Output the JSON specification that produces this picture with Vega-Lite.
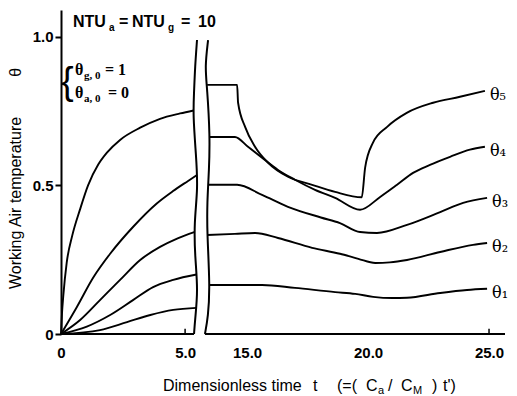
{
  "$schema": "https://vega.github.io/schema/vega-lite/v6.json",
  "width": 444,
  "height": 324,
  "autosize": "none",
  "padding": {"left": 61, "top": 10, "right": 12, "bottom": 62},
  "background": "white",
  "config": {
    "view": {"stroke": null},
    "font": "Liberation Sans",
    "text": {"color": "black", "font": "Liberation Sans"}
  },
  "datasets": {
    "curves": [
      {"s": "θ₅", "p": "L", "t": 0, "v": 0},
      {"s": "θ₅", "p": "L", "t": 0.04, "v": 0.07},
      {"s": "θ₅", "p": "L", "t": 0.09, "v": 0.126},
      {"s": "θ₅", "p": "L", "t": 0.23, "v": 0.24},
      {"s": "θ₅", "p": "L", "t": 0.45, "v": 0.33},
      {"s": "θ₅", "p": "L", "t": 0.77, "v": 0.42},
      {"s": "θ₅", "p": "L", "t": 1.09, "v": 0.5},
      {"s": "θ₅", "p": "L", "t": 1.5, "v": 0.57},
      {"s": "θ₅", "p": "L", "t": 1.85, "v": 0.61},
      {"s": "θ₅", "p": "L", "t": 2.38, "v": 0.653},
      {"s": "θ₅", "p": "L", "t": 3.19, "v": 0.694},
      {"s": "θ₅", "p": "L", "t": 3.99, "v": 0.724},
      {"s": "θ₅", "p": "L", "t": 4.8, "v": 0.742},
      {"s": "θ₅", "p": "L", "t": 5.34, "v": 0.752},
      {"s": "θ₄", "p": "L", "t": 0, "v": 0},
      {"s": "θ₄", "p": "L", "t": 0.64, "v": 0.091},
      {"s": "θ₄", "p": "L", "t": 1.3, "v": 0.19},
      {"s": "θ₄", "p": "L", "t": 1.98, "v": 0.27},
      {"s": "θ₄", "p": "L", "t": 2.9, "v": 0.36},
      {"s": "θ₄", "p": "L", "t": 3.87, "v": 0.44},
      {"s": "θ₄", "p": "L", "t": 4.5, "v": 0.48},
      {"s": "θ₄", "p": "L", "t": 5.12, "v": 0.515},
      {"s": "θ₄", "p": "L", "t": 5.48, "v": 0.535},
      {"s": "θ₃", "p": "L", "t": 0, "v": 0},
      {"s": "θ₃", "p": "L", "t": 0.77, "v": 0.047},
      {"s": "θ₃", "p": "L", "t": 1.57, "v": 0.114},
      {"s": "θ₃", "p": "L", "t": 2.38, "v": 0.182},
      {"s": "θ₃", "p": "L", "t": 3.19, "v": 0.249},
      {"s": "θ₃", "p": "L", "t": 3.99, "v": 0.293},
      {"s": "θ₃", "p": "L", "t": 4.7, "v": 0.322},
      {"s": "θ₃", "p": "L", "t": 5.37, "v": 0.343},
      {"s": "θ₂", "p": "L", "t": 0, "v": 0},
      {"s": "θ₂", "p": "L", "t": 1.04, "v": 0.025},
      {"s": "θ₂", "p": "L", "t": 1.98, "v": 0.064},
      {"s": "θ₂", "p": "L", "t": 2.9, "v": 0.114},
      {"s": "θ₂", "p": "L", "t": 3.71, "v": 0.158},
      {"s": "θ₂", "p": "L", "t": 4.52, "v": 0.182},
      {"s": "θ₂", "p": "L", "t": 5.46, "v": 0.2},
      {"s": "θ₁", "p": "L", "t": 0, "v": 0},
      {"s": "θ₁", "p": "L", "t": 1.57, "v": 0.013},
      {"s": "θ₁", "p": "L", "t": 2.66, "v": 0.04},
      {"s": "θ₁", "p": "L", "t": 3.6, "v": 0.064},
      {"s": "θ₁", "p": "L", "t": 4.52, "v": 0.081},
      {"s": "θ₁", "p": "L", "t": 5.46, "v": 0.088},
      {"s": "θ₅", "p": "R", "t": 13.35, "v": 0.838},
      {"s": "θ₅", "p": "R", "t": 14.59, "v": 0.838},
      {"s": "θ₅", "p": "R", "t": 14.63, "v": 0.778},
      {"s": "θ₅", "p": "R", "t": 14.92, "v": 0.697},
      {"s": "θ₅", "p": "R", "t": 15.33, "v": 0.63},
      {"s": "θ₅", "p": "R", "t": 15.87, "v": 0.576},
      {"s": "θ₅", "p": "R", "t": 16.69, "v": 0.529},
      {"s": "θ₅", "p": "R", "t": 17.69, "v": 0.502},
      {"s": "θ₅", "p": "R", "t": 18.64, "v": 0.478},
      {"s": "θ₅", "p": "R", "t": 19.74, "v": 0.46},
      {"s": "θ₅", "p": "R", "t": 19.88, "v": 0.56},
      {"s": "θ₅", "p": "R", "t": 20.2, "v": 0.643},
      {"s": "θ₅", "p": "R", "t": 20.79, "v": 0.697},
      {"s": "θ₅", "p": "R", "t": 21.6, "v": 0.744},
      {"s": "θ₅", "p": "R", "t": 22.69, "v": 0.778},
      {"s": "θ₅", "p": "R", "t": 23.8, "v": 0.798},
      {"s": "θ₅", "p": "R", "t": 24.83, "v": 0.818},
      {"s": "θ₄", "p": "R", "t": 13.47, "v": 0.663},
      {"s": "θ₄", "p": "R", "t": 14.5, "v": 0.663},
      {"s": "θ₄", "p": "R", "t": 15.04, "v": 0.63},
      {"s": "θ₄", "p": "R", "t": 15.62, "v": 0.593},
      {"s": "θ₄", "p": "R", "t": 16.28, "v": 0.552},
      {"s": "θ₄", "p": "R", "t": 16.98, "v": 0.519},
      {"s": "θ₄", "p": "R", "t": 17.81, "v": 0.485},
      {"s": "θ₄", "p": "R", "t": 18.64, "v": 0.458},
      {"s": "θ₄", "p": "R", "t": 19.67, "v": 0.418},
      {"s": "θ₄", "p": "R", "t": 20.5, "v": 0.461},
      {"s": "θ₄", "p": "R", "t": 21.2, "v": 0.502},
      {"s": "θ₄", "p": "R", "t": 21.86, "v": 0.542},
      {"s": "θ₄", "p": "R", "t": 22.56, "v": 0.569},
      {"s": "θ₄", "p": "R", "t": 23.39, "v": 0.596},
      {"s": "θ₄", "p": "R", "t": 24.21, "v": 0.62},
      {"s": "θ₄", "p": "R", "t": 24.83, "v": 0.63},
      {"s": "θ₃", "p": "R", "t": 13.4, "v": 0.502},
      {"s": "θ₃", "p": "R", "t": 14.59, "v": 0.502},
      {"s": "θ₃", "p": "R", "t": 15.62, "v": 0.468},
      {"s": "θ₃", "p": "R", "t": 16.69, "v": 0.428},
      {"s": "θ₃", "p": "R", "t": 18.05, "v": 0.392},
      {"s": "θ₃", "p": "R", "t": 18.84, "v": 0.373},
      {"s": "θ₃", "p": "R", "t": 19.67, "v": 0.343},
      {"s": "θ₃", "p": "R", "t": 20.37, "v": 0.34},
      {"s": "θ₃", "p": "R", "t": 21.61, "v": 0.367},
      {"s": "θ₃", "p": "R", "t": 22.98, "v": 0.41},
      {"s": "θ₃", "p": "R", "t": 23.93, "v": 0.441},
      {"s": "θ₃", "p": "R", "t": 24.92, "v": 0.458},
      {"s": "θ₂", "p": "R", "t": 13.35, "v": 0.333},
      {"s": "θ₂", "p": "R", "t": 14.5, "v": 0.337},
      {"s": "θ₂", "p": "R", "t": 15.33, "v": 0.34},
      {"s": "θ₂", "p": "R", "t": 16.28, "v": 0.323},
      {"s": "θ₂", "p": "R", "t": 17.69, "v": 0.29},
      {"s": "θ₂", "p": "R", "t": 18.84, "v": 0.27},
      {"s": "θ₂", "p": "R", "t": 19.6, "v": 0.253},
      {"s": "θ₂", "p": "R", "t": 20.3, "v": 0.239},
      {"s": "θ₂", "p": "R", "t": 20.9, "v": 0.241},
      {"s": "θ₂", "p": "R", "t": 21.61, "v": 0.249},
      {"s": "θ₂", "p": "R", "t": 22.98, "v": 0.276},
      {"s": "θ₂", "p": "R", "t": 24.34, "v": 0.3},
      {"s": "θ₂", "p": "R", "t": 24.92, "v": 0.306},
      {"s": "θ₁", "p": "R", "t": 13.47, "v": 0.165},
      {"s": "θ₁", "p": "R", "t": 15.62, "v": 0.165},
      {"s": "θ₁", "p": "R", "t": 16.98, "v": 0.155},
      {"s": "θ₁", "p": "R", "t": 18.64, "v": 0.141},
      {"s": "θ₁", "p": "R", "t": 19.47, "v": 0.135},
      {"s": "θ₁", "p": "R", "t": 20.21, "v": 0.125},
      {"s": "θ₁", "p": "R", "t": 21.0, "v": 0.121},
      {"s": "θ₁", "p": "R", "t": 21.61, "v": 0.122},
      {"s": "θ₁", "p": "R", "t": 22.98, "v": 0.138},
      {"s": "θ₁", "p": "R", "t": 24.09, "v": 0.148},
      {"s": "θ₁", "p": "R", "t": 24.92, "v": 0.152}
    ],
    "wavy": [
      {"side": "L", "t": 5.48, "v": 0.989},
      {"side": "L", "t": 5.40, "v": 0.898},
      {"side": "L", "t": 5.36, "v": 0.811},
      {"side": "L", "t": 5.32, "v": 0.737},
      {"side": "L", "t": 5.44, "v": 0.602},
      {"side": "L", "t": 5.52, "v": 0.491},
      {"side": "L", "t": 5.36, "v": 0.373},
      {"side": "L", "t": 5.40, "v": 0.259},
      {"side": "L", "t": 5.52, "v": 0.148},
      {"side": "L", "t": 5.40, "v": 0.047},
      {"side": "L", "t": 5.36, "v": 0},
      {"side": "R", "t": 13.39, "v": 0.989},
      {"side": "R", "t": 13.26, "v": 0.898},
      {"side": "R", "t": 13.35, "v": 0.831},
      {"side": "R", "t": 13.47, "v": 0.663},
      {"side": "R", "t": 13.43, "v": 0.552},
      {"side": "R", "t": 13.35, "v": 0.441},
      {"side": "R", "t": 13.35, "v": 0.34},
      {"side": "R", "t": 13.47, "v": 0.158},
      {"side": "R", "t": 13.39, "v": 0.057},
      {"side": "R", "t": 13.26, "v": 0}
    ],
    "base": [
      {"a": 0, "b": 5.36},
      {"a": 13.26, "b": 25.66}
    ],
    "xticks": [
      {"t": 5},
      {"t": 25}
    ]
  },
  "layer": [
    {
      "data": {"name": "curves"},
      "mark": {"type": "line", "interpolate": "monotone", "color": "black", "strokeWidth": 1.9},
      "encoding": {
        "x": {
          "field": "t", "type": "quantitative",
          "scale": {"domain": [0, 5.56, 13.18, 25.66], "range": [0, 138, 142, 444], "nice": false, "zero": false},
          "axis": {
            "values": [0, 5, 15, 20, 25],
            "labelExpr": "datum.value == 0 ? '0' : format(datum.value, '.1f')",
            "ticks": false, "domain": false, "grid": false,
            "labelPadding": 11, "labelFontSize": 15, "labelColor": "black", "labelFontWeight": "bold",
            "labelFont": "Liberation Sans", "labelFlush": false, "labelOverlap": false,
            "title": null
          }
        },
        "y": {
          "field": "v", "type": "quantitative",
          "scale": {"domain": [0, 1.09], "nice": false, "zero": false},
          "axis": {
            "values": [0, 0.5, 1],
            "labelExpr": "datum.value == 0 ? '0' : format(datum.value, '.1f')",
            "grid": false, "tickSize": 6, "tickWidth": 2, "tickColor": "black",
            "domainColor": "black", "domainWidth": 2,
            "labelPadding": 2, "labelFontSize": 15, "labelColor": "black", "labelFontWeight": "bold",
            "labelFont": "Liberation Sans", "labelFlush": false, "labelOverlap": false,
            "title": "Working Air temperature\u00a0\u00a0\u00a0\u00a0\u00a0\u00a0\u00a0\u00a0\u00a0θ",
            "titleFont": "Liberation Sans", "titleFontSize": 16, "titleFontWeight": "normal",
            "titleColor": "black", "titleX": -46, "titleY": 168,
            "titleAlign": "center", "titleBaseline": "middle", "titleAngle": 270
          }
        },
        "detail": [{"field": "s"}, {"field": "p"}]
      }
    },
    {
      "data": {"name": "wavy"},
      "mark": {"type": "line", "interpolate": "basis", "color": "black", "strokeWidth": 2},
      "encoding": {
        "x": {"field": "t", "type": "quantitative"},
        "y": {"field": "v", "type": "quantitative"},
        "order": {"field": "v", "type": "quantitative"},
        "detail": {"field": "side"}
      }
    },
    {
      "data": {"name": "base"},
      "mark": {"type": "rule", "color": "black", "strokeWidth": 2},
      "encoding": {
        "x": {"field": "a", "type": "quantitative"},
        "x2": {"field": "b"},
        "y": {"datum": 0}
      }
    },
    {
      "data": {"name": "xticks"},
      "mark": {"type": "rule", "color": "black", "strokeWidth": 1.5},
      "encoding": {
        "x": {"field": "t", "type": "quantitative"},
        "y": {"datum": 0},
        "y2": {"datum": 0.018}
      }
    },
    {
      "data": {"name": "curves"},
      "transform": [
        {"filter": "datum.p == 'R'"},
        {"joinaggregate": [{"op": "max", "field": "t", "as": "tmax"}], "groupby": ["s"]},
        {"filter": "datum.t == datum.tmax"}
      ],
      "mark": {"type": "text", "align": "left", "baseline": "middle", "dx": 5, "dy": 4, "font": "DejaVu Serif", "fontSize": 16},
      "encoding": {
        "x": {"field": "t", "type": "quantitative"},
        "y": {"field": "v", "type": "quantitative"},
        "text": {"field": "s"}
      }
    },
    {
      "data": {"values": [{}]},
      "layer": [
        {"mark": {"type": "text", "text": "NTU", "align": "left", "baseline": "alphabetic", "dx": 12, "fontSize": 16, "fontWeight": "bold"}},
        {"mark": {"type": "text", "text": "a", "align": "left", "baseline": "alphabetic", "dx": 48, "dy": 4, "fontSize": 10, "fontWeight": "bold"}},
        {"mark": {"type": "text", "text": "=", "align": "left", "baseline": "alphabetic", "dx": 58, "fontSize": 16, "fontWeight": "bold"}},
        {"mark": {"type": "text", "text": "NTU", "align": "left", "baseline": "alphabetic", "dx": 71, "fontSize": 16, "fontWeight": "bold"}},
        {"mark": {"type": "text", "text": "g", "align": "left", "baseline": "alphabetic", "dx": 107, "dy": 4, "fontSize": 10, "fontWeight": "bold"}},
        {"mark": {"type": "text", "text": "=", "align": "left", "baseline": "alphabetic", "dx": 120, "fontSize": 16, "fontWeight": "bold"}},
        {"mark": {"type": "text", "text": "10", "align": "left", "baseline": "alphabetic", "dx": 137, "fontSize": 16, "fontWeight": "bold"}}
      ],
      "encoding": {"x": {"datum": 0, "type": "quantitative"}, "y": {"datum": 1.033, "type": "quantitative"}}
    },
    {
      "data": {"values": [{}]},
      "layer": [
        {"mark": {"type": "text", "text": "{", "align": "left", "baseline": "middle", "dx": 0, "fontSize": 38, "font": "Liberation Sans"}},
        {"mark": {"type": "text", "text": "θ", "align": "left", "baseline": "alphabetic", "dx": 14, "dy": -8, "fontSize": 16, "font": "Liberation Serif", "fontWeight": "bold"}},
        {"mark": {"type": "text", "text": "g, 0", "align": "left", "baseline": "alphabetic", "dx": 23, "dy": -4, "fontSize": 11, "font": "Liberation Serif", "fontWeight": "bold"}},
        {"mark": {"type": "text", "text": "= 1", "align": "left", "baseline": "alphabetic", "dx": 44, "dy": -8, "fontSize": 16, "font": "Liberation Serif", "fontWeight": "bold"}},
        {"mark": {"type": "text", "text": "θ", "align": "left", "baseline": "alphabetic", "dx": 14, "dy": 15, "fontSize": 16, "font": "Liberation Serif", "fontWeight": "bold"}},
        {"mark": {"type": "text", "text": "a, 0", "align": "left", "baseline": "alphabetic", "dx": 23, "dy": 19, "fontSize": 11, "font": "Liberation Serif", "fontWeight": "bold"}},
        {"mark": {"type": "text", "text": "= 0", "align": "left", "baseline": "alphabetic", "dx": 47, "dy": 15, "fontSize": 16, "font": "Liberation Serif", "fontWeight": "bold"}}
      ],
      "encoding": {"x": {"datum": 0, "type": "quantitative"}, "y": {"datum": 0.844, "type": "quantitative"}}
    },
    {
      "data": {"values": [{}]},
      "layer": [
        {"mark": {"type": "text", "text": "Dimensionless time", "align": "left", "baseline": "alphabetic", "dx": 102, "fontSize": 16}},
        {"mark": {"type": "text", "text": "t", "align": "left", "baseline": "alphabetic", "dx": 252, "fontSize": 16}},
        {"mark": {"type": "text", "text": "(=(", "align": "left", "baseline": "alphabetic", "dx": 276, "fontSize": 16}},
        {"mark": {"type": "text", "text": "C", "align": "left", "baseline": "alphabetic", "dx": 305, "fontSize": 16}},
        {"mark": {"type": "text", "text": "a", "align": "left", "baseline": "alphabetic", "dx": 317, "dy": 3, "fontSize": 11}},
        {"mark": {"type": "text", "text": "/", "align": "left", "baseline": "alphabetic", "dx": 327, "fontSize": 16}},
        {"mark": {"type": "text", "text": "C", "align": "left", "baseline": "alphabetic", "dx": 340, "fontSize": 16}},
        {"mark": {"type": "text", "text": "M", "align": "left", "baseline": "alphabetic", "dx": 352, "dy": 3, "fontSize": 11}},
        {"mark": {"type": "text", "text": ")", "align": "left", "baseline": "alphabetic", "dx": 371, "fontSize": 16}},
        {"mark": {"type": "text", "text": "t')", "align": "left", "baseline": "alphabetic", "dx": 382, "fontSize": 16}}
      ],
      "encoding": {"x": {"datum": 0, "type": "quantitative"}, "y": {"datum": -0.1917, "type": "quantitative"}}
    }
  ]
}
